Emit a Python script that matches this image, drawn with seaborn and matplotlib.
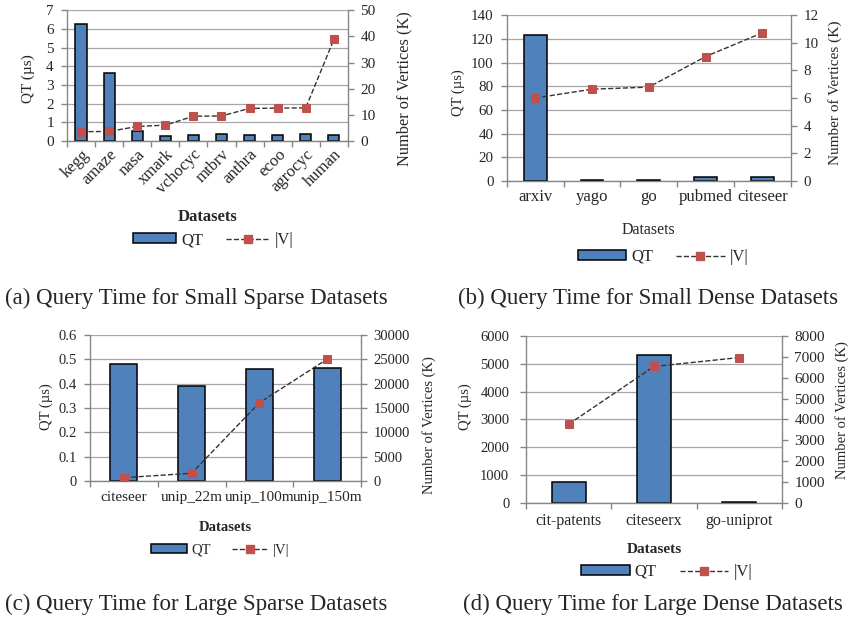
import matplotlib
matplotlib.use('Agg')
import matplotlib.pyplot as plt
from matplotlib.ticker import MultipleLocator, FixedLocator, FuncFormatter
from matplotlib.patches import Patch
from matplotlib.lines import Line2D
import numpy as np
import pandas as pd
import seaborn as sns

sns.set_theme(style='white')
plt.rcParams['font.family'] = ['Liberation Serif', 'DejaVu Serif']

# (a) small sparse
small_sparse = ['kegg', 'amaze', 'nasa', 'xmark', 'vchocyc', 'mtbrv',
                'anthra', 'ecoo', 'agrocyc', 'human']
small_sparse_qt = [6.27, 3.63, 0.55, 0.26, 0.31, 0.36, 0.31, 0.31, 0.36, 0.31]
small_sparse_v = [3.6, 3.7, 5.6, 6.1, 9.5, 9.6, 12.5, 12.6, 12.7, 38.8]

# (b) small dense
small_dense = ['arxiv', 'yago', 'go', 'pubmed', 'citeseer']
small_dense_qt = [123.5, 1.0, 1.0, 3.5, 3.5]
small_dense_v = [6.0, 6.64, 6.79, 9.0, 10.72]

# (c) large sparse
large_sparse = ['citeseer', 'unip_22m', 'unip_100m', 'unip_150m']
large_sparse_qt = [0.481, 0.39, 0.46, 0.466]
large_sparse_v = [693, 1595, 16087, 25038]

# (d) large dense
large_dense = ['cit-patents', 'citeseerx', 'go-uniprot']
large_dense_qt = [756, 5316, 48]
large_dense_v = [3774, 6540, 6968]

captions = ['(a) Query Time for Small Sparse Datasets',
            '(b) Query Time for Small Dense Datasets',
            '(c) Query Time for Large Sparse Datasets',
            '(d) Query Time for Large Dense Datasets']

BLUE = '#4F81BD'
RED = '#C0504D'
GRID = '#A6A6A6'
AXIS = '#868686'

fig = plt.figure(figsize=(8.59, 6.19), dpi=100)


def panel(rect, names, qt, verts, qmax, qstep, vmax, vstep, opts):
    ax = fig.add_axes(rect)
    df = pd.DataFrame({'dataset': names, 'qt': qt, 'v': verts})
    sns.barplot(data=df, x='dataset', y='qt', color=BLUE, saturation=1,
                edgecolor='black', linewidth=1.1, width=0.4, ax=ax)
    ax2 = ax.twinx()
    sns.pointplot(data=df, x='dataset', y='v', color='#333333',
                  markers='s', linestyles='--', errorbar=None,
                  linewidth=1.0, markersize=6, markerfacecolor=RED,
                  markeredgecolor=RED, ax=ax2)
    n = len(names)
    ax.set_xlim(-0.5, n - 0.5)
    ax.set_xticks(range(n))
    if opts.get('rotate'):
        ax.set_xticklabels(names, rotation=45, ha='right',
                           rotation_mode='anchor', fontsize=opts['xfs'])
    else:
        ax.set_xticklabels(names, fontsize=opts['xfs'])
    ax.xaxis.set_minor_locator(FixedLocator(np.arange(-0.5, n, 1.0)))
    ax.tick_params(axis='x', which='major', length=0, pad=opts.get('xpad', 6))
    ax.tick_params(axis='x', which='minor', bottom=True, length=4,
                   width=1, color=AXIS, direction='out')

    ax.set_ylim(0, qmax)
    ax.yaxis.set_major_locator(MultipleLocator(qstep))
    ax.yaxis.set_major_formatter(FuncFormatter(lambda v, p: f'{v:g}'))
    ax.tick_params(axis='y', left=True, length=4, width=1, color=AXIS,
                   labelsize=opts['yfs'], pad=opts.get('lpad', 5.5))
    ax2.set_ylim(0, vmax)
    ax2.yaxis.set_major_locator(MultipleLocator(vstep))
    ax2.yaxis.set_major_formatter(FuncFormatter(lambda v, p: f'{v:g}'))
    ax2.tick_params(axis='y', right=True, length=4, width=1, color=AXIS,
                    labelsize=opts.get('y2fs', opts['yfs']), pad=5)

    ax.grid(axis='y', color=GRID, linewidth=0.9)
    ax.grid(axis='x', visible=False)
    ax2.grid(False)
    ax.set_axisbelow(True)
    for s in ['top', 'right']:
        ax.spines[s].set_visible(False)
    for s in ['top', 'left', 'bottom']:
        ax2.spines[s].set_visible(False)
    for a, s in [(ax, 'left'), (ax, 'bottom'), (ax2, 'right')]:
        a.spines[s].set_color(AXIS)
        a.spines[s].set_linewidth(1)

    ax.set_xlabel('Datasets', fontsize=opts['dfs'],
                  fontweight=opts.get('xw', 'bold'))
    ax.xaxis.set_label_coords(0.5, opts['xl'])
    ax.set_ylabel('QT (µs)', fontsize=opts.get('lfs', 10.5))
    ax.yaxis.set_label_coords(opts['yl'][0], opts['yl'][1])
    ax2.set_xlabel('')
    ax2.set_ylabel('Number of Vertices (K)', fontsize=opts.get('rfs', 10.5))
    ax2.yaxis.set_label_coords(opts['yr'][0], opts['yr'][1])

    handles = [Patch(facecolor=BLUE, edgecolor='black', linewidth=1.1),
               Line2D([], [], color='#333333', linestyle='--', linewidth=1.0,
                      marker='s', markersize=6, markerfacecolor=RED,
                      markeredgecolor=RED)]
    ax.legend(handles, ['QT', '|V|'], loc='center', ncol=2, frameon=False,
              bbox_to_anchor=(opts['lg'][0], opts['lg'][1]),
              bbox_transform=ax.transAxes, fontsize=opts['lgfs'],
              handlelength=opts['hl'], handleheight=0.55, handletextpad=0.3,
              columnspacing=1.4)
    return ax, ax2


panel([0.078, 0.772, 0.327, 0.2116], small_sparse, small_sparse_qt,
      small_sparse_v, 7, 1, 50, 10,
      dict(rotate=True, xfs=12, yfs=11, xpad=4, xl=-0.52, yl=(-0.114, 0.48),
           yr=(1.174, 0.40), lg=(0.52, -0.756), lfs=11, rfs=11.8, dfs=12,
           lgfs=12, hl=2.6))
panel([0.590, 0.7076, 0.3306, 0.268], small_dense, small_dense_qt,
      small_dense_v, 140, 20, 12, 2,
      dict(xfs=12, yfs=10.8, xpad=6, xl=-0.247, yl=(-0.148, 0.53),
           yr=(1.130, 0.53), lg=(0.55, -0.458), xw='normal', dfs=11.5,
           rfs=11, lgfs=12, hl=2.9))
panel([0.1048, 0.2229, 0.3155, 0.2359], large_sparse, large_sparse_qt,
      large_sparse_v, 0.6, 0.1, 30000, 5000,
      dict(xfs=11, yfs=10.5, xpad=7, xl=-0.274, yl=(-0.137, 0.507),
           yr=(1.225, 0.38), lg=(0.48, -0.473), dfs=10.5, lgfs=10.5, hl=2.5))
panel([0.6123, 0.1874, 0.298, 0.2698], large_dense, large_dense_qt,
      large_dense_v, 6000, 1000, 8000, 1000,
      dict(xfs=11.5, yfs=10.5, y2fs=11, xpad=7, xl=-0.240, lpad=8,
           yl=(-0.211, 0.575), yr=(1.207, 0.557), lg=(0.55, -0.413),
           dfs=11, lgfs=12, hl=2.9))

cap_pos = [(5, 298), (458, 298), (5, 604), (463, 604)]
for (x, y), txt in zip(cap_pos, captions):
    fig.text(x / 859, 1 - y / 619, txt, ha='left', va='center', fontsize=16.5)

fig.savefig('out.png', dpi=100)
